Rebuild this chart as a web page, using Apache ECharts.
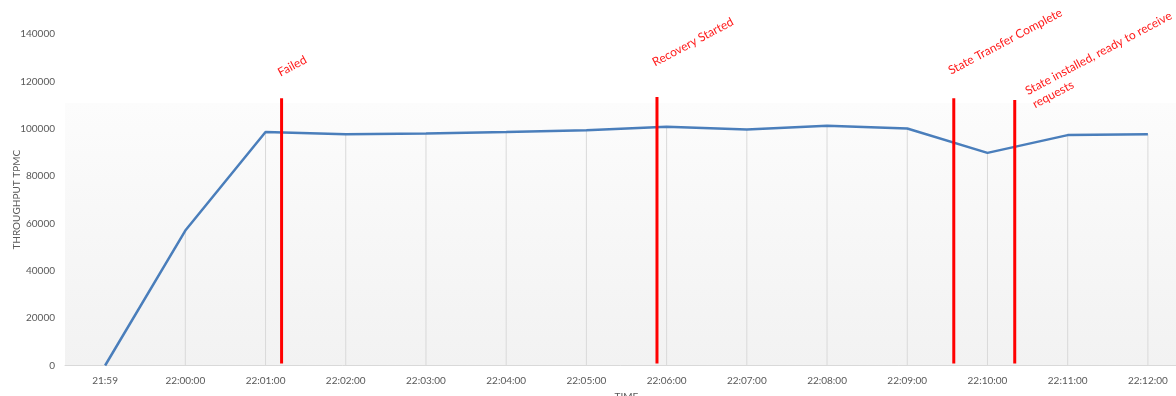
<!DOCTYPE html>
<html>
<head>
<meta charset="utf-8">
<title>Throughput during failure and recovery</title>
<script src="https://cdn.jsdelivr.net/npm/echarts@6/dist/echarts.min.js"></script>
<style>
  html, body { margin: 0; padding: 0; background: #fff; }
  #chart { width: 1176px; height: 396px; }
</style>
</head>
<body>
<div id="chart"></div>
<script>
// time buckets on the x axis
const times = ['21:59', '22:00:00', '22:01:00', '22:02:00', '22:03:00', '22:04:00', '22:05:00',
  '22:06:00', '22:07:00', '22:08:00', '22:09:00', '22:10:00', '22:11:00', '22:12:00'];

// throughput, tpmC
const throughput = [0, 57000, 98600, 97700, 98000, 98600, 99400,
  100800, 99700, 101200, 100100, 89800, 97300, 97700];

// events, placed in category-index units (fractions = part way between minutes)
const eventLabels = ['Failed', 'Recovery Started', 'State Transfer Complete',
  'State installed, ready to receive\nrequests'];
const eventAt = [2.2, 6.88, 10.58, 11.34];
const eventTop = [112900, 113400, 112900, 112100];
// where each label starts (data units)
const eventLabelX = [2.12, 6.79, 10.48, 11.44];
const eventLabelY = [126200, 130500, 127000, 118400];

const FONT = "Lato, 'Open Sans', sans-serif";
const GREY_TEXT = '#595959';
const ROT = 28 * Math.PI / 180;

const chart = echarts.init(document.getElementById('chart'));

const eventRows = eventAt.map((x, i) => [x, eventTop[i], eventLabelX[i], eventLabelY[i]]);

chart.setOption({
  animation: false,
  textStyle: { fontFamily: FONT },
  grid: {
    left: 65, top: 34, width: 1123, height: 331.5,
    outerBoundsMode: 'none',
    containLabel: false,
    show: true, borderWidth: 0,
    backgroundColor: new echarts.graphic.LinearGradient(0, 0, 0, 1, [
      { offset: 0, color: '#ffffff' },
      { offset: 0.207, color: '#ffffff' },
      { offset: 0.208, color: '#fcfcfc' },
      { offset: 1, color: '#f2f2f2' }
    ])
  },
  xAxis: [
    {
      type: 'category',
      data: times,
      boundaryGap: true,
      name: 'TIME',
      nameLocation: 'middle',
      nameGap: 26,
      nameMoveOverlap: false,
      nameTextStyle: { color: GREY_TEXT, fontSize: 10 },
      axisLine: { lineStyle: { color: '#d9d9d9', width: 1 } },
      axisTick: { show: false },
      axisLabel: { color: GREY_TEXT, fontSize: 10, margin: 10 },
      splitLine: { show: false }
    },
    {
      // hidden linear axis for the event markers
      type: 'value',
      min: -0.5,
      max: times.length - 0.5,
      show: false
    }
  ],
  yAxis: {
    type: 'value',
    min: 0,
    max: 140000,
    interval: 20000,
    name: 'THROUGHPUT TPMC',
    nameLocation: 'middle',
    nameRotate: 90,
    nameGap: 43,
    nameMoveOverlap: false,
    nameTextStyle: { color: GREY_TEXT, fontSize: 10 },
    axisLine: { show: false },
    axisTick: { show: false },
    splitLine: { show: false },
    axisLabel: { color: GREY_TEXT, fontSize: 10, margin: 10, formatter: v => String(v) }
  },
  series: [
    {
      // drop lines from each point to the axis
      type: 'bar',
      data: throughput,
      barWidth: 1,
      silent: true,
      itemStyle: { color: '#d9d9d9' },
      z: 1
    },
    {
      type: 'line',
      data: throughput,
      symbol: 'none',
      lineStyle: { color: '#4a7ebb', width: 2.5 },
      z: 2
    },
    {
      type: 'custom',
      xAxisIndex: 1,
      yAxisIndex: 0,
      data: eventRows,
      silent: true,
      z: 3,
      renderItem: (params, api) => {
        const x = api.value(0);
        const p0 = api.coord([x, 0]);
        const p1 = api.coord([x, api.value(1)]);
        const pl = api.coord([api.value(2), api.value(3)]);
        return {
          type: 'group',
          children: [
            {
              type: 'line',
              shape: { x1: p0[0], y1: p0[1] - 2, x2: p1[0], y2: p1[1] },
              style: { stroke: '#ff0000', lineWidth: 3 }
            },
            {
              type: 'text',
              x: pl[0],
              y: pl[1],
              rotation: ROT,
              style: {
                text: eventLabels[params.dataIndex],
                fill: '#ff1a1a',
                font: '12px ' + FONT,
                align: 'left',
                verticalAlign: 'top',
                lineHeight: 15
              }
            }
          ]
        };
      }
    }
  ]
});
</script>
</body>
</html>
